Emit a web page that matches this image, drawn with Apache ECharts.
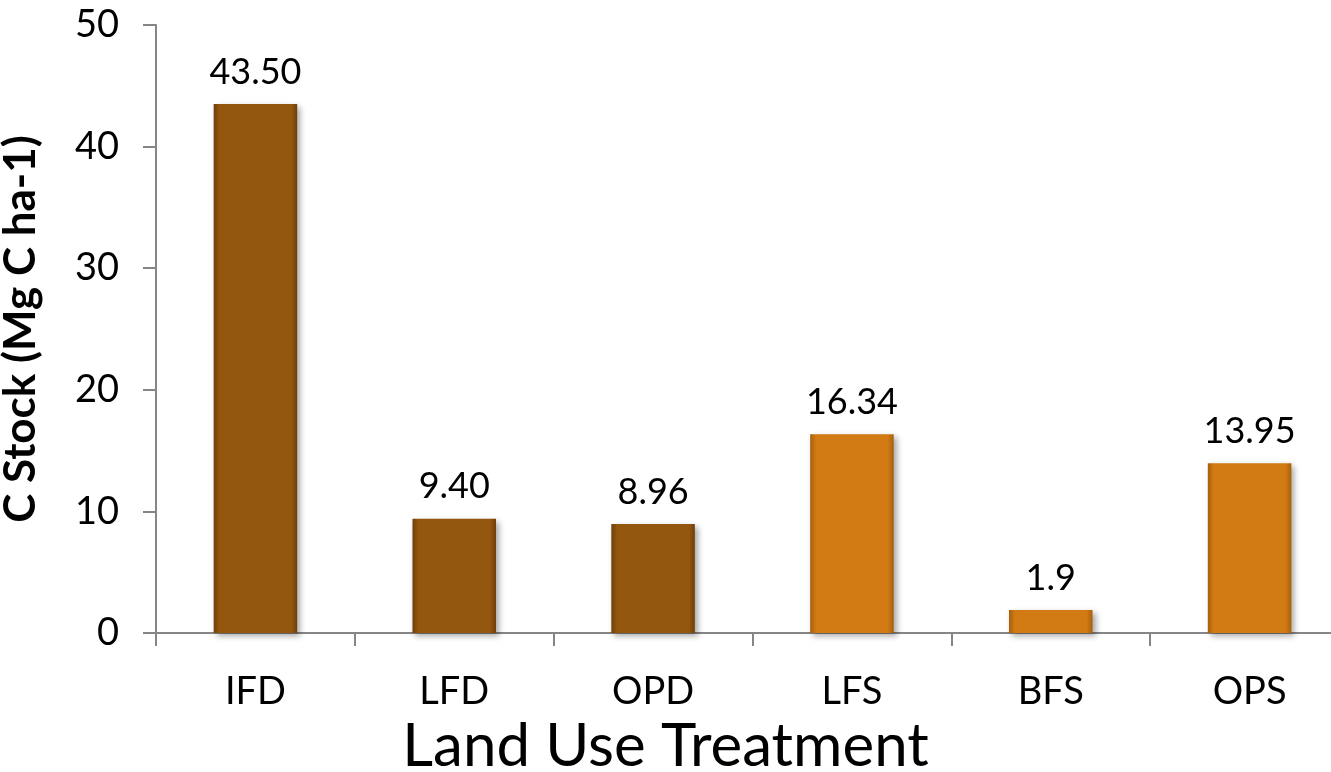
<!DOCTYPE html>
<html>
<head>
<meta charset="utf-8">
<script src="https://cdn.jsdelivr.net/npm/echarts@6/dist/echarts.min.js"></script>
<style>
  html, body { margin: 0; padding: 0; background: #ffffff; }
  #chart { width: 1331px; height: 772px; }
</style>
</head>
<body>
<div id="chart"></div>
<script>
// Land use treatments and their carbon stock (Mg C ha-1)
const categories = ['IFD', 'LFD', 'OPD', 'LFS', 'BFS', 'OPS'];
const stockValues = [43.50, 9.40, 8.96, 16.34, 1.9, 13.95];
const stockLabels = ['43.50', '9.40', '8.96', '16.34', '1.9', '13.95'];
const yTicks = [0, 10, 20, 30, 40, 50];

const FONT = 'Lato, "Open Sans", sans-serif';

// Bevelled look: darker edges on both sides of each bar
function bevel(base, edge) {
  return {
    type: 'linear', x: 0, y: 0, x2: 1, y2: 0,
    colorStops: [
      { offset: 0, color: edge },
      { offset: 0.07, color: base },
      { offset: 0.93, color: base },
      { offset: 1, color: edge }
    ]
  };
}
const darkFill = bevel('#94570f', '#6f3f0a');
const lightFill = bevel('#d27a13', '#a55f0c');

const chart = echarts.init(document.getElementById('chart'), null, { renderer: 'canvas' });

chart.setOption({
  animation: false,
  backgroundColor: '#ffffff',
  title: {
    text: 'Land Use Treatment',
    left: 'center',
    top: 712,
    textStyle: { fontFamily: FONT, fontSize: 60, fontWeight: 'normal', color: '#000' }
  },
  grid: {
    left: 156, right: -18, top: 25, bottom: 139,
    containLabel: false,
    outerBoundsMode: 'none'
  },
  xAxis: {
    type: 'category',
    data: categories,
    axisLine: { lineStyle: { color: '#868686', width: 2 } },
    axisTick: { show: true, length: 13, lineStyle: { color: '#868686', width: 2 } },
    axisLabel: { margin: 40, fontFamily: FONT, fontSize: 38, color: '#000' }
  },
  yAxis: {
    type: 'value',
    min: yTicks[0],
    max: yTicks[yTicks.length - 1],
    interval: yTicks[1] - yTicks[0],
    name: 'C Stock (Mg C ha-1)',
    nameLocation: 'middle',
    nameRotate: 90,
    nameGap: 113,
    nameTextStyle: { fontFamily: FONT, fontSize: 44, fontWeight: 'bold', color: '#000' },
    axisLine: { show: true, lineStyle: { color: '#868686', width: 2 } },
    axisTick: { show: true, length: 13, lineStyle: { color: '#868686', width: 2 } },
    splitLine: { show: false },
    axisLabel: { margin: 37, fontFamily: FONT, fontSize: 38, color: '#000' }
  },
  series: [{
    type: 'bar',
    barWidth: '42%',
    data: stockValues.map((v, i) => ({
      value: v,
      itemStyle: { color: i < 3 ? darkFill : lightFill }
    })),
    itemStyle: {
      shadowColor: 'rgba(0,0,0,0.35)',
      shadowBlur: 6,
      shadowOffsetX: 3,
      shadowOffsetY: 3
    },
    label: {
      show: true,
      position: 'top',
      distance: 14,
      fontFamily: FONT,
      fontSize: 36,
      color: '#000',
      formatter: p => stockLabels[p.dataIndex]
    }
  }]
});
</script>
</body>
</html>
